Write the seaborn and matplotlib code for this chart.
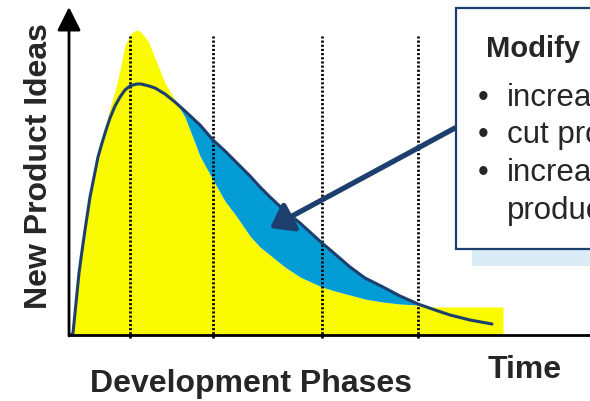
import numpy as np
import pandas as pd
import seaborn as sns
import matplotlib
matplotlib.use("Agg")
import matplotlib.pyplot as plt
from matplotlib.patches import Rectangle

# Time since start of development (common grid for both curves)
time = [0, 2, 5, 8, 11, 14, 17, 19, 23, 27, 31, 35, 39, 44, 49, 54, 59, 62,
        66, 70, 74, 78, 84, 94, 104, 114, 129, 142, 154, 166, 179, 189, 199,
        214, 229, 251, 264, 279, 294, 312, 329, 347, 364, 379, 399, 421, 432]

# Surviving ideas with the current process (yellow area)
ideas_current = [0, 3, 34, 64, 86, 107, 127, 140, 160, 179, 194, 211, 227,
                 244, 265, 290, 300, 303, 305, 303, 298, 292, 277, 252, 235,
                 218, 179, 155, 134, 118, 99, 88, 80, 68, 58, 48, 44, 40, 36,
                 33, 31, 30, 28, 28, 28, 28, 28]

# Surviving ideas with the modified process (dark line)
ideas_modified = [0, 2, 32, 62, 84, 105, 125, 138, 158, 178, 192, 205, 217,
                  229, 238, 245, 249, 250, 251, 251, 250, 249, 247, 241, 233,
                  224, 210, 195, 184, 172, 159, 148, 138, 124, 112, 92, 81,
                  68, 57, 48, 39, 31, 25, 20, 15, 11, np.nan]

# Boundaries between development phases
phase_bounds = [59, 142, 251, 347]

box_title = "Modify"
box_bullets = ["increase", "cut process", "increase"]
box_extra = "product"

NAVY = "#1D3F6E"
YELLOW = "#FAFA00"
CYAN = "#039CD5"

sns.set_style("white")
plt.rcParams["font.family"] = ["Liberation Sans", "DejaVu Sans"]

df = pd.DataFrame({"time": time, "current": ideas_current,
                   "modified": ideas_modified})

fig = plt.figure(figsize=(5.9, 4.01), dpi=100)
ax = fig.add_axes([0, 0, 1, 1])
ax.set_xlim(-71, 519)
ax.set_ylim(-66, 335)
ax.axis("off")

t = df["time"].to_numpy(float)
cur = df["current"].to_numpy(float)
mod = df["modified"].to_numpy(float)

# areas
ax.fill_between(t, 0, cur, color=YELLOW, lw=0, zorder=1)
gain = np.where(np.isnan(mod), False, mod > cur)
ax.fill_between(t, cur, mod, where=gain, color=CYAN, lw=0, zorder=2,
                interpolate=True)

# phase boundaries
for b in phase_bounds:
    ax.plot([b, b], [-3, 299], color="black", lw=2.0,
            linestyle=(0, (0.75, 0.75)), zorder=3)

# modified-process curve
sns.lineplot(data=df.dropna(), x="time", y="modified", color=NAVY, lw=2.2,
             estimator=None, sort=False, ax=ax, zorder=4)
ax.set_xlabel("")
ax.set_ylabel("")

# axes
ax.plot([-2, 530], [0, 0], color="black", lw=2.0, zorder=5,
        solid_capstyle="butt")
ax.annotate("", xy=(-2, 328), xytext=(-2, -1),
            arrowprops=dict(arrowstyle="-|>,head_length=0.4,head_width=0.2",
                            mutation_scale=36, lw=2, color="black",
                            shrinkA=0, shrinkB=0), zorder=5)

# pointer arrow
ax.annotate("", xy=(199, 107), xytext=(384, 207),
            arrowprops=dict(arrowstyle="-|>,head_length=0.55,head_width=0.4",
                            mutation_scale=24, lw=3.8, color=NAVY,
                            shrinkA=0, shrinkB=0), zorder=6)

# callout box with shadow
ax.add_patch(Rectangle((401, 69), 200, 250, facecolor="#DAEDF7",
                       edgecolor="none", zorder=7))
ax.add_patch(Rectangle((385, 86), 250, 241, facecolor="white",
                       edgecolor=NAVY, lw=1.6, zorder=8))
ax.text(415, 278, box_title, fontsize=21, fontweight="bold",
        va="baseline", ha="left", zorder=9)
for y, line in zip([229, 192, 154], box_bullets):
    ax.text(412, y, "\u2022", fontsize=22, va="baseline", ha="center",
            zorder=9)
    ax.text(436, y, line, fontsize=22.5, va="baseline", ha="left", zorder=9)
ax.text(436, 116, box_extra, fontsize=22.5, va="baseline", ha="left",
        zorder=9)

# labels
ax.text(180, -57, "Development Phases", fontsize=23, fontweight="bold",
        ha="center", va="baseline")
ax.text(454, -43, "Time", fontsize=23, fontweight="bold",
        ha="center", va="baseline")
ax.text(-32, 169, "New Product Ideas", fontsize=23, fontweight="bold",
        rotation=90, ha="center", va="center")

fig.savefig("out.png", dpi=100)
